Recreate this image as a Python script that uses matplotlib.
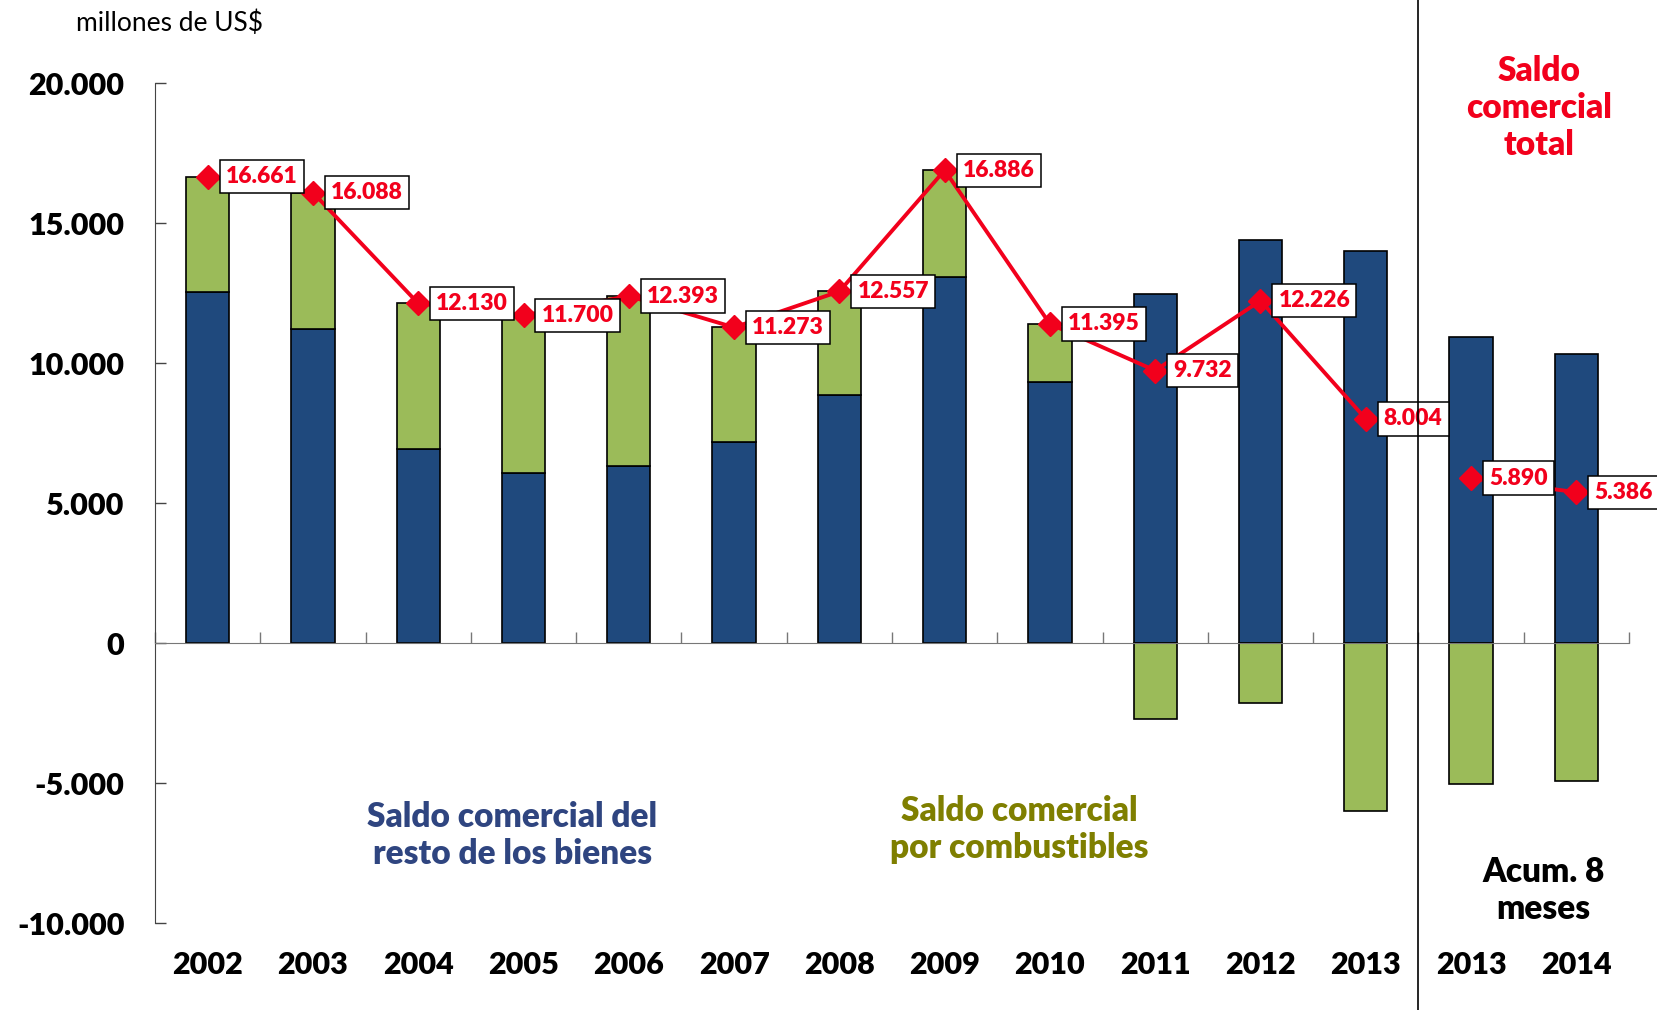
import matplotlib
matplotlib.use("Agg")
import matplotlib.pyplot as plt
from matplotlib.ticker import FuncFormatter, FixedLocator
import numpy as np

plt.rcParams['font.family'] = ['Lato', 'DejaVu Sans']

# data (millones de US$)
years = ['2002', '2003', '2004', '2005', '2006', '2007', '2008', '2009',
         '2010', '2011', '2012', '2013', '2013', '2014']
resto = [12530, 11210, 6940, 6070, 6310, 7180, 8870, 13070, 9320,
         12450, 14380, 14000, 10940, 10320]
combust = [4131, 4878, 5190, 5630, 6083, 4093, 3687, 3816, 2075,
           -2718, -2154, -5996, -5050, -4934]
total = [16661, 16088, 12130, 11700, 12393, 11273, 12557, 16886, 11395,
         9732, 12226, 8004, 5890, 5386]

blue = '#1F497D'
green = '#9BBB59'
red = '#F2001C'
W = 'heavy'

def miles(v, pos=None):
    return f"{v:,.0f}".replace(',', '.')

fig = plt.figure(figsize=(16.58, 10.10), dpi=100)
ax = fig.add_axes([0.0935, 0.0861, 0.889, 0.8317])

x = np.arange(len(years))
w = 0.41
ax.bar(x, resto, w, color=blue, edgecolor='black', linewidth=1.2, zorder=2)
bottoms = [r if c > 0 else 0 for r, c in zip(resto, combust)]
ax.bar(x, combust, w, bottom=bottoms, color=green, edgecolor='black',
       linewidth=1.2, zorder=2)

# line for the total, broken between annual and 8-month data
ax.plot(x[:12], total[:12], color=red, lw=2.8, marker='D', ms=12, zorder=4)
ax.plot(x[12:], total[12:], color=red, lw=2.8, marker='D', ms=12, zorder=4)

for xi, t in zip(x, total):
    ax.annotate(miles(t), (xi, t), xytext=(13, 0), textcoords='offset points',
                ha='left', va='center', color=red, fontsize=16.5,
                fontweight=W, zorder=5,
                bbox=dict(boxstyle='square,pad=0.27', fc='white',
                          ec='black', lw=1.1))

ax.set_xlim(-0.5, 13.5)
ax.set_ylim(-10000, 20000)
ax.set_yticks(np.arange(-10000, 20001, 5000))
ax.yaxis.set_major_formatter(FuncFormatter(miles))
ax.tick_params(axis='y', direction='in', length=8, width=1, colors='#444444',
               labelcolor='black', labelsize=22, pad=22)
for lab in ax.get_yticklabels():
    lab.set_fontweight(W)

ax.xaxis.set_major_locator(FixedLocator(np.arange(-0.5, 14, 1)))
ax.tick_params(axis='x', direction='in', length=8, width=1, colors='#777777',
               labelbottom=False)
for s in ['top', 'right']:
    ax.spines[s].set_visible(False)
ax.spines['bottom'].set_position(('data', 0))
ax.spines['bottom'].set_color('#777777')
ax.spines['left'].set_color('#444444')

tr = ax.get_xaxis_transform()
for xi, y in zip(x, years):
    ax.text(xi, -0.05, y, transform=tr, ha='center', va='center',
            fontsize=22, fontweight=W)

# separator between annual and cumulative data
ax.axvline(11.5, ymin=-0.11, ymax=1.11, color='black', lw=1.2,
           clip_on=False, zorder=6)

fig.text(0.046, 0.977, 'millones de US$', fontsize=19, va='center')
fig.text(0.928, 0.893, 'Saldo\ncomercial\ntotal', color=red, fontsize=24,
         fontweight=W, ha='center', va='center', linespacing=1.2)
fig.text(0.931, 0.118, 'Acum. 8\nmeses', fontsize=24, fontweight=W,
         ha='center', va='center', linespacing=1.2)
fig.text(0.309, 0.173, 'Saldo comercial del\nresto de los bienes',
         color='#2F4580', fontsize=24, fontweight=W, ha='center',
         va='center', linespacing=1.2)
fig.text(0.615, 0.179, 'Saldo comercial\npor combustibles',
         color='#7F7F00', fontsize=24, fontweight=W, ha='center',
         va='center', linespacing=1.2)

fig.savefig('out.png', dpi=100)
